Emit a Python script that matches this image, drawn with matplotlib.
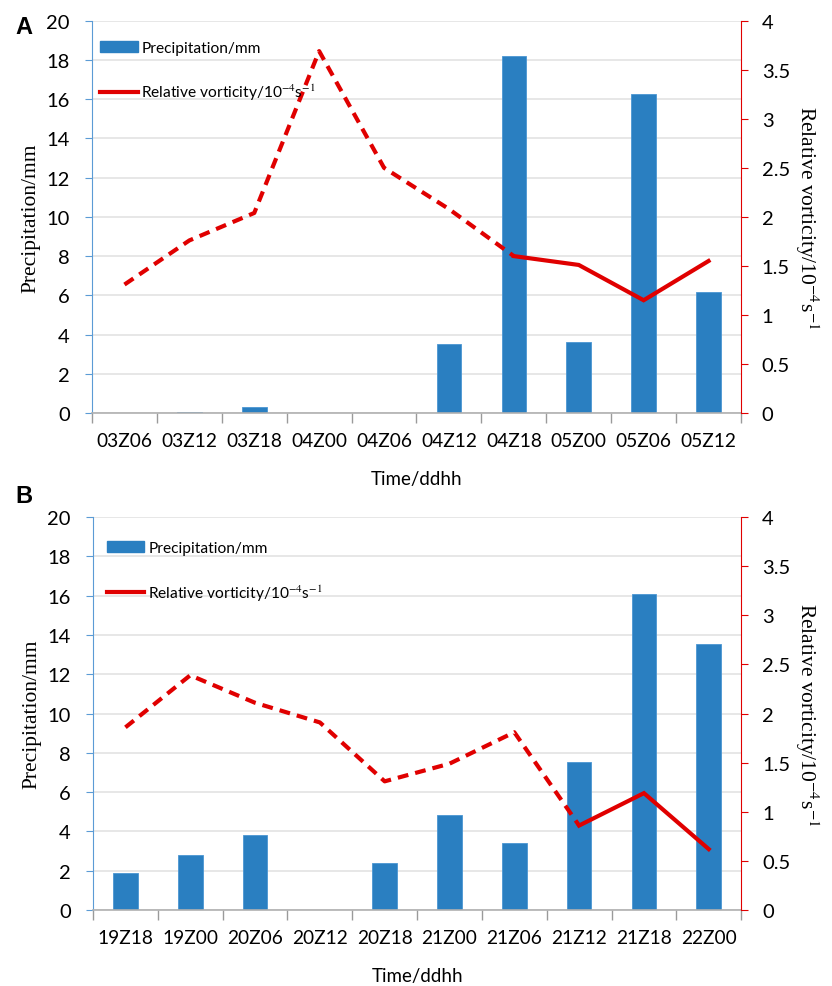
import numpy as np
import matplotlib
matplotlib.use("Agg")
import matplotlib.pyplot as plt
from matplotlib.patches import Patch
from matplotlib.lines import Line2D

plt.rcParams['font.family'] = ['Lato', 'DejaVu Sans']
plt.rcParams['mathtext.fontset'] = 'stix'

# panel A
times_a = ['03Z06', '03Z12', '03Z18', '04Z00', '04Z06', '04Z12', '04Z18', '05Z00', '05Z06', '05Z12']
precip_a = [0.0, 0.07, 0.29, 0.0, 0.0, 3.52, 18.2, 3.6, 16.25, 6.15]
vort_a = [1.31, 1.76, 2.04, 3.69, 2.50, 2.08, 1.60, 1.51, 1.15, 1.55]
split_a = 6  # dashed up to this point, solid after

# panel B
times_b = ['19Z18', '19Z00', '20Z06', '20Z12', '20Z18', '21Z00', '21Z06', '21Z12', '21Z18', '22Z00']
precip_b = [1.88, 2.82, 3.82, 0.0, 2.38, 4.84, 3.41, 7.54, 16.1, 13.55]
vort_b = [1.86, 2.39, 2.11, 1.91, 1.31, 1.49, 1.81, 0.86, 1.19, 0.62]
split_b = 7

bar_col = '#2a7fc1'
line_col = '#e00000'
left_col = '#5b9bd5'
vlabel = 'Relative vorticity/10$^{-4}$s$^{-1}$'


def panel(ax, times, precip, vort, split, leg_anchor):
    x = np.arange(len(times))
    ax.bar(x, precip, width=0.38, color=bar_col, edgecolor='#4a96d2', linewidth=0.6, zorder=2)
    ax.set_xlim(-0.5, len(times) - 0.5)
    ax.set_ylim(0, 20)
    ax.set_yticks(np.arange(0, 21, 2))
    ax.grid(axis='y', color='#e3e3e3', lw=1.2, zorder=0)
    ax.set_axisbelow(True)
    ax.set_xticks(x)
    ax.set_xticklabels(times, fontsize=13.8)
    ax.set_xticks(np.arange(-0.5, len(times)), minor=True)
    ax.tick_params(axis='x', which='major', length=0, pad=14)
    ax.tick_params(axis='x', which='minor', length=7, color='#9a9a9a', width=1)
    ax.tick_params(axis='y', length=5, color=left_col, labelsize=14.5, pad=11)
    for s in ['top', 'right']:
        ax.spines[s].set_visible(False)
    ax.spines['left'].set_color(left_col)
    ax.spines['bottom'].set_color('#b0b0b0')
    ax.spines['bottom'].set_linewidth(1.2)
    ax.set_ylabel('Precipitation/mm', family='Liberation Serif', fontsize=15.5, labelpad=4)
    ax.set_xlabel('Time/ddhh', fontsize=13.5, labelpad=15)

    ax2 = ax.twinx()
    ax2.plot(x[:split + 1], vort[:split + 1], color=line_col, lw=3, ls=(0, (2.6, 1.7)))
    ax2.plot(x[split:], vort[split:], color=line_col, lw=3, solid_joinstyle='miter')
    ax2.set_ylim(0, 4)
    ax2.set_yticks(np.arange(0, 4.01, 0.5))
    ax2.set_yticklabels(['0', '0.5', '1', '1.5', '2', '2.5', '3', '3.5', '4'])
    ax2.tick_params(axis='y', length=5, color=line_col, labelsize=14.5, pad=10)
    for s in ['top', 'left', 'bottom']:
        ax2.spines[s].set_visible(False)
    ax2.spines['right'].set_color(line_col)
    ax2.set_ylabel(vlabel, family='Liberation Serif', fontsize=15.5, rotation=270, labelpad=22)

    handles = [Patch(color=bar_col), Line2D([], [], color=line_col, lw=3)]
    ax2.legend(handles, ['Precipitation/mm', vlabel], loc='upper left',
               bbox_to_anchor=leg_anchor, frameon=False, fontsize=11.2,
               labelspacing=1.75, handlelength=2.4, handletextpad=0.25,
               borderaxespad=0.0)
    return ax2


fig = plt.figure(figsize=(8.32, 9.87), dpi=100)
ax_a = fig.add_axes([0.1106, 0.5805, 0.780, 0.3975])
ax_b = fig.add_axes([0.1118, 0.077, 0.779, 0.398])
panel(ax_a, times_a, precip_a, vort_a, split_a, (0.003, 0.965))
panel(ax_b, times_b, precip_b, vort_b, split_b, (0.012, 0.955))

fig.text(15 / 832, 1 - 27 / 987, 'A', fontsize=17, fontweight='bold',
         family='Liberation Sans', va='center', ha='left')
fig.text(15 / 832, 1 - 497 / 987, 'B', fontsize=17, fontweight='bold',
         family='Liberation Sans', va='center', ha='left')

fig.savefig('out.png', dpi=100, facecolor='white')
